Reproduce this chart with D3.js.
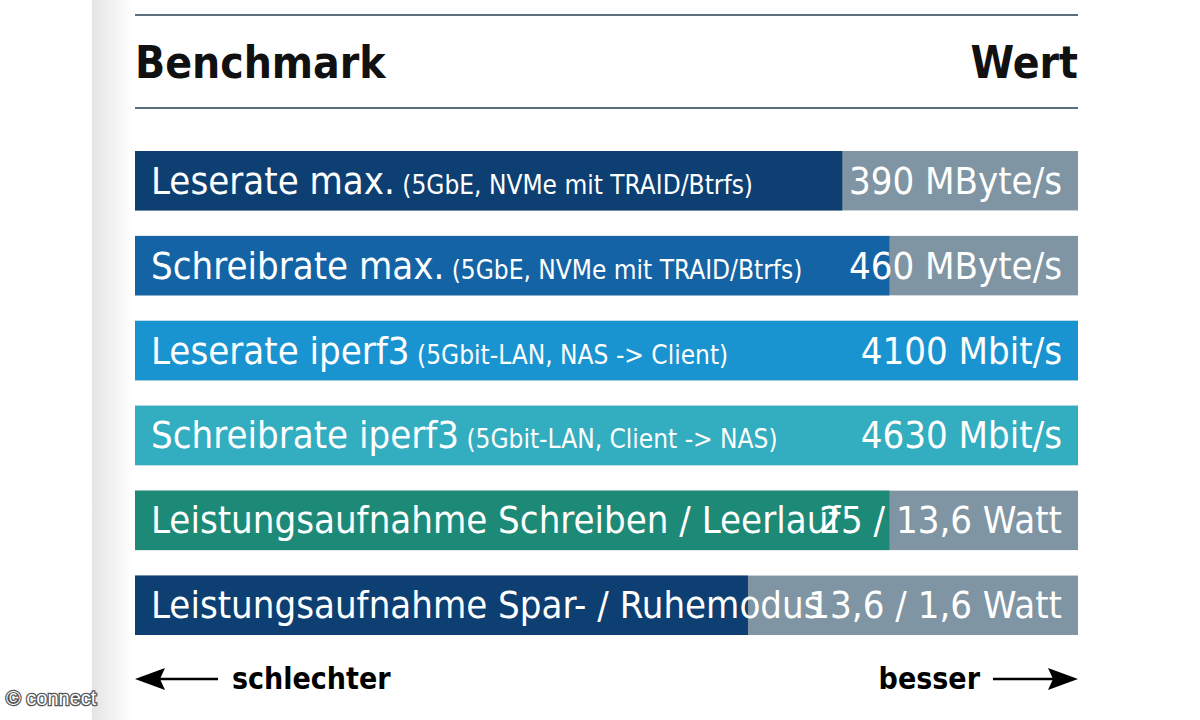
<!DOCTYPE html>
<html><head><meta charset="utf-8">
<script src="https://cdn.jsdelivr.net/npm/d3@7"></script>
<style>
body{margin:0;background:#fff;}
svg{display:block;font-family:"Liberation Sans Narrow","DejaVu Sans Condensed","Roboto",sans-serif;}
</style></head>
<body><svg id="c" width="1200" height="720"></svg>
<script>
// score of each bar (0-100, share of full width)
const labels = ["Leserate max.", "Schreibrate max.", "Leserate iperf3", "Schreibrate iperf3",
  "Leistungsaufnahme Schreiben / Leerlauf", "Leistungsaufnahme Spar- / Ruhemodus"];
const notes = ["(5GbE, NVMe mit TRAID/Btrfs)", "(5GbE, NVMe mit TRAID/Btrfs)", "(5Gbit-LAN, NAS -> Client)",
  "(5Gbit-LAN, Client -> NAS)", "", ""];
const values = ["390 MByte/s", "460 MByte/s", "4100 Mbit/s", "4630 Mbit/s", "25 / 13,6 Watt", "13,6 / 1,6 Watt"];
const scores = [75, 80, 100, 100, 80, 65];
const colors = ["#0d3f73", "#1464a5", "#1a94d0", "#33adc0", "#1d8a78", "#0d3f73"];

const svg = d3.select("#c");
const defs = svg.append("defs");
const g1 = defs.append("linearGradient").attr("id", "side");
g1.append("stop").attr("offset", "0").attr("stop-color", "#e4e4e4");
g1.append("stop").attr("offset", "1").attr("stop-color", "#ffffff");
svg.append("rect").attr("x", 92).attr("y", 0).attr("width", 40).attr("height", 720).attr("fill", "url(#side)");

const x = d3.scaleLinear().domain([0, 100]).range([135, 1078]);
const y = d3.scaleBand().domain(d3.range(labels.length)).range([151, 635]).paddingInner(0.3);

// header rules
[15, 108].forEach(v => svg.append("line").attr("x1", 135).attr("x2", 1078).attr("y1", v).attr("y2", v)
  .attr("stroke", "#5d6f7b").attr("stroke-width", 2));
svg.append("text").attr("x", 135).attr("y", 78).attr("font-size", 44).attr("font-weight", 700).attr("fill", "#111").text("Benchmark");
svg.append("text").attr("x", 1078).attr("y", 78).attr("text-anchor", "end").attr("font-size", 44).attr("font-weight", 700).attr("fill", "#111").text("Wert");

const row = svg.selectAll("g.row").data(labels).join("g").attr("class", "row")
  .attr("transform", (d, i) => `translate(0,${y(i)})`);
row.append("rect").attr("x", x(0)).attr("width", x(100) - x(0)).attr("height", y.bandwidth()).attr("fill", "#7f95a3");
row.append("rect").attr("x", x(0)).attr("width", (d, i) => x(scores[i]) - x(0)).attr("height", y.bandwidth())
  .attr("fill", (d, i) => colors[i]);
const t = row.append("text").attr("x", 151).attr("y", y.bandwidth() / 2 + 13).attr("fill", "#fff");
t.append("tspan").attr("font-size", 38).text(d => d);
t.append("tspan").attr("font-size", 26).text((d, i) => notes[i] ? " " + notes[i] : "");
row.append("text").attr("x", 1062).attr("y", y.bandwidth() / 2 + 13).attr("text-anchor", "end")
  .attr("font-size", 38).attr("fill", "#fff").text((d, i) => values[i]);

// footer arrows
const ah = svg.append("g");
ah.append("line").attr("x1", 150).attr("x2", 218).attr("y1", 679).attr("y2", 679).attr("stroke", "#000").attr("stroke-width", 2.5);
ah.append("path").attr("d", "M135,679 L165,668 L160,679 L165,690 Z").attr("fill", "#000");
ah.append("line").attr("x1", 993).attr("x2", 1060).attr("y1", 679).attr("y2", 679).attr("stroke", "#000").attr("stroke-width", 2.5);
ah.append("path").attr("d", "M1078,679 L1048,668 L1053,679 L1048,690 Z").attr("fill", "#000");
svg.append("text").attr("x", 232).attr("y", 689).attr("font-size", 30).attr("font-weight", 700).text("schlechter");
svg.append("text").attr("x", 980).attr("y", 689).attr("text-anchor", "end").attr("font-size", 30).attr("font-weight", 700).text("besser");
svg.append("text").attr("x", 6).attr("y", 705).attr("font-size", 20).attr("fill", "#fff")
  .attr("stroke", "#555").attr("stroke-width", 2.5).attr("paint-order", "stroke").attr("font-family", "Liberation Sans, sans-serif").text("© connect");
</script></body></html>
